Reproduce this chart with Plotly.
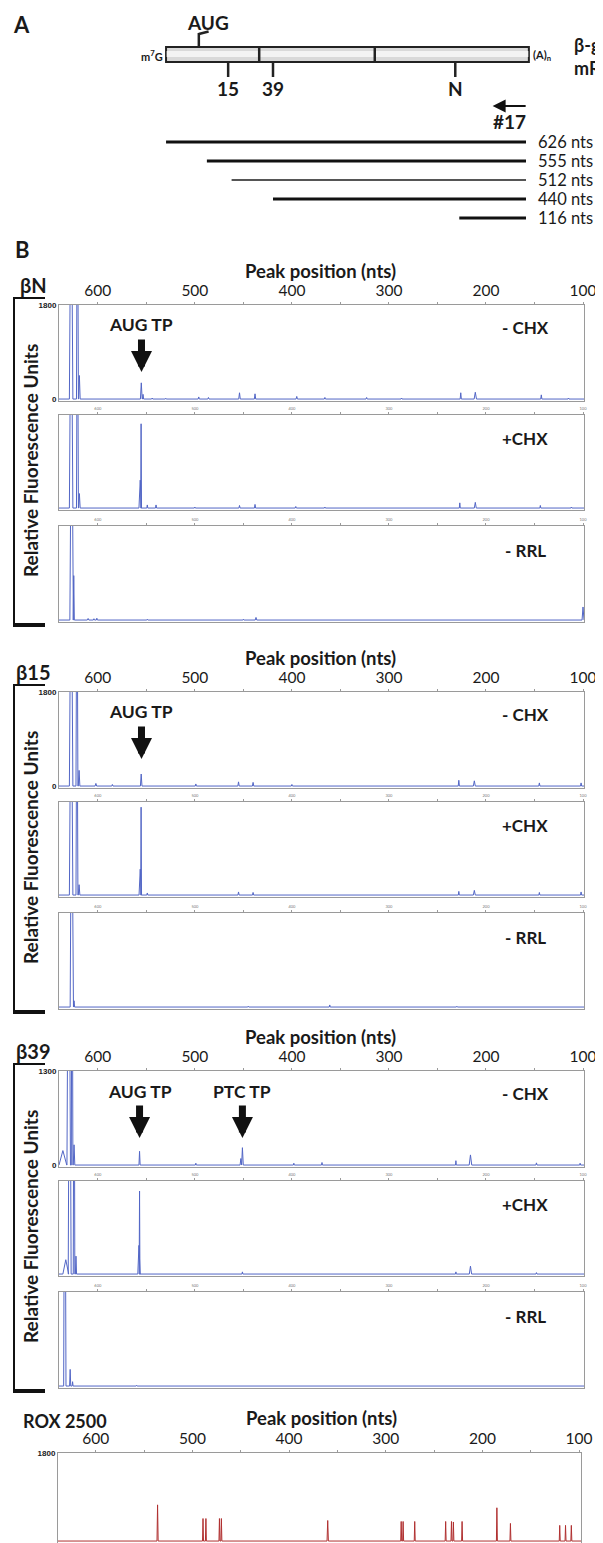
import plotly.graph_objects as go

# target picture is 603x1543; the page body adds an 8 px margin, so the figure
# itself is made 8 px smaller and every layout position is given in screen px.
SCREEN_W, SCREEN_H = 603, 1543
BODY = 8
W, H = SCREEN_W - BODY, SCREEN_H - BODY


def fx(px):
    return (px - BODY) / W


def fy(px):
    return 1 - (px - BODY) / H


FONT = "Lato"
BLUE = "#5266c6"
ROX_COLOR = "#b03030"
AXIS_GRAY = "#9a9a9a"
TEXT = "#1a1a1a"

# ---------------- data ----------------
major_ticks = [600, 500, 400, 300, 200, 100]
major_labels = ["600", "500", "400", "300", "200", "100"]
minor_ticks = [550, 450, 350, 250, 150]

group_labels = ["βN", "β15", "β39"]
group_ymax = [1800, 1800, 1300]
condition_labels = ["- CHX", "+CHX", "- RRL"]

# peaks: (position in nts, height in RFU, half width in nts)
bN_minus_chx = [(627.5, 5000, 1.8), (621, 5000, 1.0), (619, 450, 0.8),
                (555.2, 310, 0.9), (553.4, 90, 0.6), (544, 20, 0.6), (530, 15, 0.5),
                (496, 40, 0.6), (486, 30, 0.6), (454, 120, 0.8), (438, 100, 0.7),
                (395, 50, 0.7), (366, 30, 0.6), (323, 30, 0.6), (287, 20, 0.5),
                (226, 120, 0.6), (211, 130, 1.2), (143, 80, 0.6), (115, 20, 0.5)]
bN_plus_chx = [(627.5, 5000, 1.8), (621, 5000, 1.0), (619, 280, 0.8),
               (556.3, 540, 1.3), (555.4, 1630, 0.4), (549, 60, 0.5), (540, 60, 0.6),
               (500, 20, 0.5), (454, 50, 0.6), (438, 70, 0.6), (396, 30, 0.6),
               (366, 20, 0.5), (227, 100, 0.5), (211, 110, 1.0), (144, 50, 0.5),
               (112, 20, 0.5)]
bN_minus_rrl = [(627, 5000, 1.8), (624.8, 850, 0.6), (610, 30, 0.8), (604, 25, 0.6),
                (601, 35, 0.6), (549, 15, 0.5), (450, 15, 0.5), (437, 50, 0.8),
                (100, 250, 1.0)]

b15_minus_chx = [(627.5, 5000, 1.8), (621.5, 5000, 1.0), (619.3, 300, 0.8),
                 (602, 50, 0.8), (585, 30, 0.6), (555.3, 230, 0.8), (499, 40, 0.6),
                 (455, 80, 0.7), (440, 70, 0.7), (400, 30, 0.6), (228, 110, 0.6),
                 (212, 100, 1.0), (145, 60, 0.6), (102, 60, 0.6)]
b15_plus_chx = [(627.5, 5000, 1.8), (621.5, 5000, 1.0), (619.3, 200, 0.8),
                (556.3, 500, 1.2), (555.4, 1700, 0.4), (549, 40, 0.5), (455, 60, 0.6),
                (440, 50, 0.6), (228, 70, 0.5), (212, 90, 1.0), (145, 50, 0.5),
                (102, 60, 0.6)]
b15_minus_rrl = [(627, 5000, 1.5), (624.5, 120, 0.6), (445, 15, 0.5), (361, 40, 0.5),
                 (230, 15, 0.5)]

b39_minus_chx = [(636, 200, 4.0), (630, 5000, 1.8), (626.5, 5000, 0.8), (624.5, 280, 0.8),
                 (557, 190, 0.6), (499, 25, 0.5), (452.6, 90, 0.8), (451, 240, 0.9),
                 (398, 25, 0.5), (369, 35, 0.5), (231, 60, 0.4), (216, 140, 1.3),
                 (148, 30, 0.6), (103, 25, 0.5)]
b39_plus_chx = [(633, 200, 3.0), (629, 5000, 1.5), (624.5, 5000, 0.8), (622.5, 250, 0.6),
                (557.6, 400, 1.2), (557, 1160, 0.4), (451, 30, 0.5), (231, 30, 0.4),
                (216, 110, 1.2), (148, 20, 0.5)]
b39_minus_rrl = [(634, 5000, 1.2), (628.5, 230, 0.6), (626, 60, 0.5), (560, 10, 0.5),
                 (451, 10, 0.5)]

rox_2500 = [(536, 740, 0.6), (489, 460, 0.5), (486, 460, 0.5), (472, 460, 0.5),
            (470, 460, 0.5), (360, 420, 0.7), (284, 400, 0.5), (282, 400, 0.5),
            (270, 400, 0.5), (238, 400, 0.5), (232, 400, 0.5), (230, 390, 0.5),
            (221, 400, 0.5), (185, 680, 0.5), (171, 360, 0.5), (120, 320, 0.5),
            (114, 320, 0.5), (108, 320, 0.5)]

group_traces = [[bN_minus_chx, bN_plus_chx, bN_minus_rrl],
                [b15_minus_chx, b15_plus_chx, b15_minus_rrl],
                [b39_minus_chx, b39_plus_chx, b39_minus_rrl]]

toeprints = [[("AUG TP", 555)], [("AUG TP", 555)], [("AUG TP", 557), ("PTC TP", 451)]]

# schematic (positions in nts upstream of primer #17)
fragment_lengths = [626, 555, 512, 440, 116]
fragment_labels = ["626 nts", "555 nts", "512 nts", "440 nts", "116 nts"]
mrna_span = [626, -5]
exon_junctions = [464, 263]
mutation_sites = [518, 440, 123]
mutation_labels = ["15", "39", "N"]
aug_position = 569
primer_span = [-2, 58]

# ---------------- layout geometry (screen px) ----------------
group_offsets = [0, 387, 766]
sub_tops = [305, 415, 526]
sub_bots = [401, 510, 622]
PLOT_L, PLOT_R = 59, 584
X_RANGE = [640, 99]


def peaks_to_xy(peaks, hi, lo):
    xs, ys = [hi], [0]
    for pos, h, w in sorted(peaks, key=lambda p: -p[0]):
        xs += [pos + w, pos, pos - w]
        ys += [0, h, 0]
    xs.append(lo)
    ys.append(0)
    return xs, ys


fig = go.Figure()
layout = {}
annotations = []
shapes = []


def bold(size, color=TEXT, family=FONT):
    return dict(family=family, size=size, color=color, weight="bold")


def note(text, x, y, font, xref="paper", yref="paper", xanchor="center", **kw):
    d = dict(text=text, x=x, y=y, xref=xref, yref=yref, xanchor=xanchor,
             yanchor="middle", showarrow=False, font=font)
    d.update(kw)
    annotations.append(d)


def add_panel(k, top, bot, xrange_, xl, xr, ymax, peaks, color, big_labels, ylabels):
    xs, ys = peaks_to_xy(peaks, xrange_[0], xrange_[1])
    fig.add_trace(go.Scatter(x=xs, y=ys, mode="lines", line=dict(color=color, width=1),
                             xaxis=f"x{k}", yaxis=f"y{k}", showlegend=False,
                             hoverinfo="skip"))
    ymin = -ymax * 2.0 / (bot - top)
    layout[f"xaxis{k}"] = dict(
        domain=[fx(xl), fx(xr)], range=xrange_, anchor=f"y{k}", side="top",
        showline=True, linecolor=AXIS_GRAY, linewidth=1, mirror=True,
        showgrid=False, zeroline=False, tickmode="array", tickvals=major_ticks,
        ticktext=major_labels, ticks="outside", ticklen=2, tickcolor=AXIS_GRAY,
        minor=dict(tickvals=minor_ticks, ticks="outside", ticklen=2, tickcolor=AXIS_GRAY),
        tickfont=dict(family=FONT, size=15.5 if big_labels else 4,
                      color=TEXT if big_labels else "#777"),
        automargin=False, fixedrange=True)
    layout[f"yaxis{k}"] = dict(
        domain=[max(fy(bot), 0), fy(top)], range=[ymin, ymax], anchor=f"x{k}",
        showline=True, linecolor=AXIS_GRAY, linewidth=1, mirror=True,
        showgrid=False, zeroline=False, ticks="",
        tickvals=[0, ymax] if ylabels else [], ticktext=["0", str(ymax)],
        tickfont=dict(family="Arial", size=8, color=TEXT, weight="bold"),
        automargin=False, fixedrange=True)
    layout[f"yaxis{k + 20}"] = dict(
        overlaying=f"y{k}", side="right", anchor=f"x{k}", range=[ymin, ymax],
        showline=False, showgrid=False, zeroline=False, showticklabels=False,
        ticks="outside", ticklen=2, tickcolor=AXIS_GRAY, tickmode="linear",
        tick0=0, dtick=100, automargin=False, fixedrange=True)


k = 0
for g in range(3):
    off = group_offsets[g]
    ymax = group_ymax[g]
    first_k = k + 1
    for s in range(3):
        k += 1
        add_panel(k, off + sub_tops[s], off + sub_bots[s], X_RANGE, PLOT_L, PLOT_R,
                  ymax, group_traces[g][s], BLUE, s == 0, s == 0)
        note(condition_labels[s], fx(525), fy(off + [327, 438, 550][s]), bold(17))
    note("Peak position (nts)", fx(320), fy(off + 271), bold(18.5))
    note(group_labels[g], fx(33), fy(off + 285), bold(20))
    note("Relative Fluorescence Units", fx(30), fy(off + 461), bold(19), textangle=-90)
    for label, pos in toeprints[g]:
        note(label, pos, fy(off + 325), bold(17.5), xref=f"x{first_k}")
        annotations.append(dict(text="", x=pos, y=fy(off + 372), xref=f"x{first_k}",
                                yref="paper", showarrow=True, arrowhead=2,
                                arrowwidth=7, arrowsize=0.6, arrowcolor="#111",
                                ax=0, ay=-34))
    # bracket
    shapes.append(dict(type="line", xref="paper", yref="paper", x0=fx(14), x1=fx(14),
                       y0=fy(off + 298), y1=fy(off + 626), line=dict(color="#111", width=2)))
    shapes.append(dict(type="line", xref="paper", yref="paper", x0=fx(13), x1=fx(45),
                       y0=fy(off + 298), y1=fy(off + 298), line=dict(color="#111", width=2)))
    shapes.append(dict(type="line", xref="paper", yref="paper", x0=fx(13), x1=fx(45),
                       y0=fy(off + 625), y1=fy(off + 625), line=dict(color="#111", width=4)))

# ROX panel
k += 1
add_panel(k, 1453, SCREEN_H, [639, 98], 58, 581, 1800, rox_2500, ROX_COLOR, True, True)
note("Peak position (nts)", fx(321), fy(1418), bold(18.5))
note("ROX 2500", fx(65), fy(1421), bold(18))

# panel letters
note("A", fx(21), fy(25), bold(22))
note("B", fx(22), fy(249), bold(22))

# ---------------- schematic ----------------
PX_PER_NT = 0.575
PRIMER_PX = 526
sx = "x11"
sy = "y11"
layout["xaxis11"] = dict(domain=[0, 1], range=[(PRIMER_PX - BODY) / PX_PER_NT,
                                              (PRIMER_PX - SCREEN_W) / PX_PER_NT],
                         anchor="y11", visible=False, fixedrange=True, automargin=False)
layout["yaxis11"] = dict(domain=[fy(230), 1], range=[230, BODY], anchor="x11",
                         visible=False, fixedrange=True, automargin=False)

frag_rows = [142, 161, 180, 199, 218]
for i, L in enumerate(fragment_lengths):
    thin = fragment_labels[i].startswith("512")
    fig.add_trace(go.Scatter(x=[L, 0], y=[frag_rows[i], frag_rows[i]], mode="lines",
                             line=dict(color="#555" if thin else "#111",
                                       width=2 if thin else 3),
                             xaxis=sx, yaxis=sy, showlegend=False, hoverinfo="skip"))
    note(fragment_labels[i], fx(536), fy(frag_rows[i]),
         dict(family=FONT, size=16.5, color=TEXT), xanchor="left")

# mRNA box
shapes.append(dict(type="rect", xref=sx, yref=sy, x0=mrna_span[0], x1=mrna_span[1],
                   y0=47, y1=62, fillcolor="#d9d9d9", line=dict(color="#222", width=2)))
shapes.append(dict(type="rect", xref=sx, yref=sy, x0=mrna_span[0] - 1, x1=mrna_span[1] + 1,
                   y0=51, y1=57, fillcolor="#f3f3f3", line=dict(width=0)))
for j in exon_junctions:
    shapes.append(dict(type="line", xref=sx, yref=sy, x0=j, x1=j, y0=47, y1=62,
                       line=dict(color="#222", width=2.5)))
for pos, lab in zip(mutation_sites, mutation_labels):
    shapes.append(dict(type="line", xref=sx, yref=sy, x0=pos, x1=pos, y0=62, y1=77,
                       line=dict(color="#222", width=2.5)))
    note(lab, pos, 88, bold(19), xref=sx, yref=sy)
shapes.append(dict(type="line", xref=sx, yref=sy, x0=aug_position, x1=aug_position,
                   y0=47, y1=33, line=dict(color="#222", width=2.5)))
shapes.append(dict(type="line", xref=sx, yref=sy, x0=aug_position, x1=aug_position - 17,
                   y0=34, y1=31.5, line=dict(color="#222", width=2.5)))
note("AUG", aug_position - 16, 22, bold(19), xref=sx, yref=sy)
note("m<sup>7</sup>G", mrna_span[0], 55, bold(11), xref=sx, yref=sy, xanchor="right",
     xshift=-1)
note("(A)<sub>n</sub>", mrna_span[1], 55, bold(11), xref=sx, yref=sy, xanchor="left",
     xshift=2)
note("β-globin<br>mRNA", fx(572), fy(57), bold(18), xanchor="left", align="left")
annotations.append(dict(text="", x=primer_span[1], y=106, xref=sx, yref=sy,
                        ax=primer_span[0], ay=106, axref=sx, ayref=sy, showarrow=True,
                        arrowhead=2, arrowwidth=2, arrowsize=1.3, arrowcolor="#111"))
note("#17", (primer_span[0] + primer_span[1]) / 2, 121, bold(19), xref=sx, yref=sy)

fig.add_trace(go.Scatter(x=[None], y=[None], xaxis=sx, yaxis=sy, showlegend=False))

fig.update_layout(width=W, height=H, autosize=False,
                  margin=dict(l=0, r=0, t=0, b=0, autoexpand=False),
                  paper_bgcolor="white", plot_bgcolor="rgba(0,0,0,0)",
                  font=dict(family=FONT, color=TEXT),
                  annotations=annotations, shapes=shapes, showlegend=False,
                  **layout)

fig.write_html("out.html")
